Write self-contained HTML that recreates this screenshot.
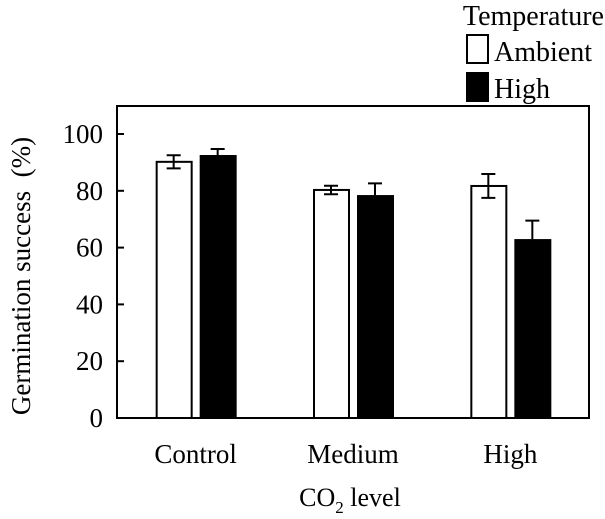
<!DOCTYPE html>
<html><head><meta charset="utf-8"><style>
body{margin:0;background:#fff;}
svg{display:block;font-family:"Liberation Serif",serif;}
</style></head><body>
<svg id="chart" width="605" height="519" viewBox="0 0 605 519">
<rect x="117" y="106" width="472" height="312" fill="none" stroke="#000" stroke-width="2"/>
<g id="yaxis"></g>
<g id="bars"></g>
<g id="xaxis"></g>
<text transform="translate(30,276) rotate(-90)" text-anchor="middle" font-size="27" xml:space="preserve">Germination success  (%)</text>
<text x="350" y="506" text-anchor="middle" font-size="26">CO<tspan font-size="17" dy="7">2</tspan><tspan dy="-7"> level</tspan></text>
<g>
<text x="604" y="25" text-anchor="end" font-size="28">Temperature</text>
<rect x="467" y="35" width="21" height="28" fill="#fff" stroke="#000" stroke-width="2"/>
<text x="494" y="61" font-size="28">Ambient</text>
<rect x="466" y="72" width="23" height="30" fill="#000"/>
<text x="494" y="98" font-size="28">High</text>
</g>
</svg>
<script>
const categories=["Control","Medium","High"];
const ambientValues=[90.2,80.3,81.7];
const ambientErrors=[2.3,1.5,4.2];
const highValues=[92.6,78.5,63.0];
const highErrors=[2.1,4.1,6.5];
const yTicks=[0,20,40,60,80,100];
const NS="http://www.w3.org/2000/svg";
const L=117,R=589,T=106,B=418;
const y=v=>418-v*2.84;
const bw=(R-L)/categories.length;
const xc=i=>L+bw*(i+0.5);
function mk(tag,attrs,parent){const e=document.createElementNS(NS,tag);for(const k in attrs)e.setAttribute(k,attrs[k]);parent.appendChild(e);return e;}
const ya=document.getElementById('yaxis'),ba=document.getElementById('bars'),xa=document.getElementById('xaxis');
yTicks.forEach(t=>{
 const l=mk('line',{x1:L,x2:L+7,y1:y(t),y2:y(t),stroke:'#000','stroke-width':2},ya);
 
 
 const tx=mk('text',{x:L-14,y:y(t)+9,'text-anchor':'end','font-size':27},ya);
 tx.textContent=t;
 
 
});
categories.forEach((c,i)=>{
 const tx=mk('text',{x:xc(i),y:463,'text-anchor':'middle','font-size':27},xa);
 tx.textContent=c;
 
 
 const series=[[ambientValues,ambientErrors,'#fff',xc(i)-40],[highValues,highErrors,'#000',xc(i)+4]];
 series.forEach(([vals,errs,fill,x0],s)=>{
  const v=vals[i],e=errs[i];
  const r=mk('rect',{x:x0+(s?0:1),y:y(v),width:s?37:35,height:B-y(v),fill:fill,stroke:'#000','stroke-width':s?0:2},ba);
  
  
  const cx=x0+18;
  const lo=s?v:v-e;
  const g=mk('path',{d:`M${cx} ${y(lo)}V${y(v+e)}M${cx-7} ${y(v+e)}H${cx+7}`+(s?'':`M${cx-7} ${y(v-e)}H${cx+7}`),stroke:'#000','stroke-width':2,fill:'none'},ba);
  
  
 });
});
</script>
</body></html>
